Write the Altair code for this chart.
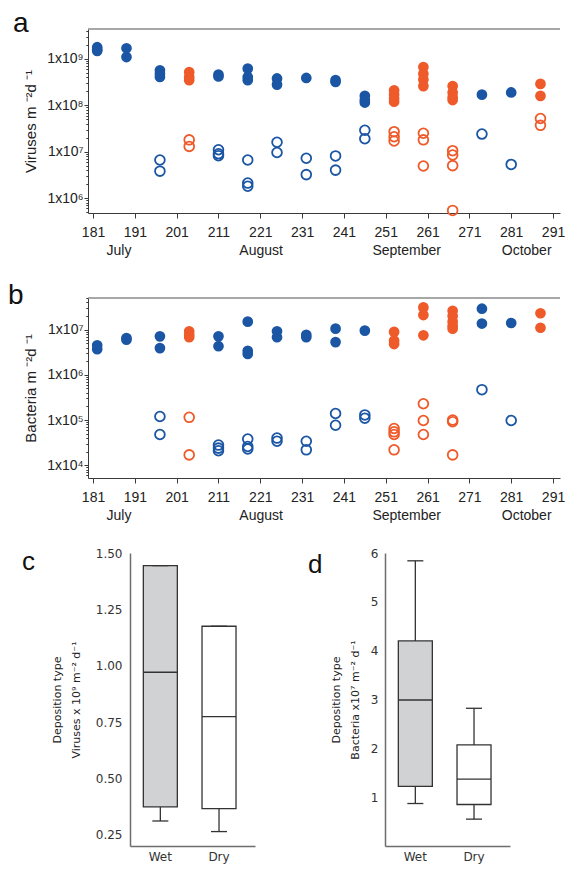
import altair as alt
import pandas as pd

BLUE = "#1b56a4"
ORANGE = "#ef5a2a"
AXIS_COL = "#3a3a3a"
TXT = "#222222"
SANS = "Liberation Sans"
DJV = "DejaVu Sans"

# ---------------- time-series data (day of year) ----------------
days = [182, 189, 197, 204, 211, 218, 225, 232, 239, 246, 253, 260, 267, 274, 281, 288]
wet_days = [204, 253, 260, 267, 288]

vir_filled = [
    [1.8e9, 1.6e9, 1.5e9],
    [1.7e9, 1.1e9],
    [5.7e8, 4.8e8, 4.1e8],
    [5.2e8, 4.1e8, 3.5e8],
    [4.6e8, 4.2e8],
    [6.2e8, 4.1e8, 3.5e8],
    [3.8e8, 2.8e8],
    [3.9e8],
    [3.5e8, 3.2e8],
    [1.6e8, 1.3e8, 1.15e8],
    [2.1e8, 1.7e8, 1.4e8, 1.2e8],
    [6.7e8, 4.8e8, 3.6e8, 2.6e8],
    [2.6e8, 1.9e8, 1.5e8, 1.3e8],
    [1.7e8],
    [1.9e8],
    [2.9e8, 1.6e8],
]
vir_open = [
    [],
    [],
    [6.6e6, 3.8e6],
    [1.8e7, 1.3e7],
    [1.1e7, 9.0e6, 8.2e6],
    [6.6e6, 2.1e6, 1.8e6],
    [1.6e7, 9.6e6],
    [7.2e6, 3.2e6],
    [8.1e6, 4.0e6],
    [2.9e7, 1.9e7],
    [2.7e7, 2.1e7, 1.7e7],
    [2.5e7, 1.8e7, 4.9e6],
    [1.05e7, 8.5e6, 5.0e6, 5.4e5],
    [2.4e7],
    [5.3e6],
    [5.2e7, 3.7e7],
]
bac_filled = [
    [4.5e6, 3.7e6],
    [6.5e6, 6.0e6],
    [7.1e6, 3.9e6],
    [9.2e6, 7.7e6, 6.8e6],
    [7.1e6, 4.3e6],
    [1.5e7, 3.4e6, 2.9e6],
    [9.2e6, 6.8e6],
    [7.7e6, 6.8e6],
    [1.05e7, 5.3e6],
    [9.5e6],
    [8.9e6, 5.7e6, 4.8e6],
    [3.1e7, 2.1e7, 7.5e6],
    [2.6e7, 2.0e7, 1.5e7, 1.2e7, 1.05e7],
    [2.9e7, 1.36e7],
    [1.4e7],
    [2.3e7, 1.1e7],
]
bac_open = [
    [],
    [],
    [1.2e5, 4.8e4],
    [1.15e5, 1.7e4],
    [2.8e4, 2.4e4, 2.1e4],
    [3.8e4, 2.6e4, 2.3e4],
    [4.0e4, 3.4e4],
    [3.4e4, 2.2e4],
    [1.4e5, 7.7e4],
    [1.3e5, 1.1e5],
    [6.5e4, 5.5e4, 4.8e4, 2.2e4],
    [2.3e5, 9.8e4, 4.8e4],
    [1.0e5, 9.2e4, 1.7e4],
    [4.7e5],
    [9.8e4],
    [],
]

x_ticks = [181, 191, 201, 211, 221, 231, 241, 251, 261, 271, 281, 291]
month_names = ["July", "August", "September", "October"]
month_pos = [187.2, 221.2, 256.0, 284.7]

# ---------------- box-plot summaries ----------------
box_groups = ["Wet", "Dry"]
vir_lo = [0.311, 0.264]
vir_q1 = [0.374, 0.366]
vir_med = [0.971, 0.774]
vir_q3 = [1.444, 1.175]
vir_hi = [1.444, 1.175]
bac_lo = [0.87, 0.55]
bac_q1 = [1.22, 0.85]
bac_med = [2.99, 1.37]
bac_q3 = [4.20, 2.07]
bac_hi = [5.84, 2.82]


def long_df(values):
    rows = []
    for d, vals in zip(days, values):
        for v in vals:
            rows.append({"day": d, "value": v,
                         "kind": "wet" if d in wet_days else "dry"})
    return pd.DataFrame(rows)


SUP = "['⁰','¹','²','³','⁴','⁵','⁶','⁷','⁸','⁹']"
DEC = "abs(log(datum.value)/LN10 - round(log(datum.value)/LN10)) < 0.001"

TS_W = 472
X_DOMAIN = [179.8, 292.67]


def ts_panel(filled, opened, ytitle, ydomain, exps, letter, lx, ly, H, W=TS_W):
    xs = alt.Scale(domain=X_DOMAIN, nice=False, zero=False)
    ys = alt.Scale(type="log", domain=ydomain, nice=False)
    minor = [m * 10.0 ** k for k in exps for m in range(1, 10)
             if ydomain[0] <= m * 10.0 ** k <= ydomain[1]]
    xaxis = alt.Axis(values=x_ticks, title=None, grid=False, tickSize=5,
                     tickColor=AXIS_COL, domainColor=AXIS_COL, labelColor=TXT,
                     labelFont=SANS, labelFontSize=14, labelPadding=7,
                     labelFlush=False, labelOverlap=False)
    yaxis = alt.Axis(values=minor, title=ytitle, grid=False, tickSize=4,
                     tickDash={"condition": {"test": DEC, "value": [4, 0]},
                               "value": [2.2, 10]},
                     labelExpr=f"{DEC} ? '1x10' + {SUP}[round(log(datum.value)/LN10)] : ''",
                     tickColor=AXIS_COL, domainColor=AXIS_COL, labelColor=TXT,
                     labelFont=SANS, labelFontSize=14, labelPadding=1,
                     labelOverlap=False, labelFlush=False,
                     titleFont=SANS, titleFontSize=15, titleFontWeight="normal",
                     titleColor=TXT, titlePadding=8)
    color = alt.Color("kind:N", scale=alt.Scale(domain=["dry", "wet"], range=[BLUE, ORANGE]),
                      legend=None)
    x = alt.X("day:Q", scale=xs, axis=xaxis)
    y = alt.Y("value:Q", scale=ys, axis=yaxis)
    one = pd.DataFrame({"t": [letter]})
    top = alt.Chart(one).mark_rule(color="#8a8a8a", strokeWidth=1.5).encode(
        x=alt.value(0), x2=alt.value(W), y=alt.value(0))
    pf = alt.Chart(long_df(filled)).mark_circle(size=115, opacity=1).encode(x=x, y=y, color=color)
    po = alt.Chart(long_df(opened)).mark_point(shape="circle", filled=False, size=95,
                                               strokeWidth=1.8, opacity=1).encode(x=x, y=y, color=color)
    mdf = pd.DataFrame({"m": month_names, "d": month_pos})
    months = alt.Chart(mdf).mark_text(font=SANS, fontSize=14, color=TXT, baseline="alphabetic",
                                      align="center").encode(
        x=alt.X("d:Q", scale=xs, axis=xaxis), y=alt.value(H + 42), text="m:N")
    let = alt.Chart(one).mark_text(font=SANS, fontSize=28, color="#111", align="left",
                                   baseline="alphabetic").encode(
        x=alt.value(lx), y=alt.value(ly), text="t:N")
    return alt.layer(top, pf, po, months, let).properties(width=W, height=H)


def box_panel(lo, q1, med, q3, hi, title_lines, ydomain, yvalues, fmt, letter,
              lx, ly, tpad, lpad, H=293, W=125):
    df = pd.DataFrame({"grp": box_groups, "lo": lo, "q1": q1, "med": med, "q3": q3, "hi": hi})
    xs = alt.Scale(domain=box_groups, paddingInner=0, paddingOuter=0.065, align=0.13)
    xaxis = alt.Axis(title=None, labelAngle=0, ticks=False, labelFont=DJV, labelFontSize=12,
                     labelColor="#333", labelPadding=5, domainColor="#6e6e6e", domainWidth=1.5)
    ys = alt.Scale(domain=ydomain, nice=False, zero=False)
    yaxis = alt.Axis(values=yvalues, format=fmt, title=title_lines, ticks=False, grid=False,
                     labelFont=DJV, labelFontSize=12, labelColor="#333", labelPadding=lpad,
                     domainColor="#6e6e6e", domainWidth=1.5, titleFont=DJV, titleFontSize=11,
                     titleFontWeight="normal", titleColor=TXT, titleLineHeight=19,
                     titlePadding=tpad)
    x = alt.X("grp:N", scale=xs, axis=xaxis, sort=box_groups)
    base = alt.Chart(df)
    line = "#333333"
    w_lo = base.mark_rule(color=line, strokeWidth=1.3).encode(
        x=x, y=alt.Y("lo:Q", scale=ys, axis=yaxis), y2="q1:Q")
    w_hi = base.mark_rule(color=line, strokeWidth=1.3).encode(
        x=x, y=alt.Y("q3:Q", scale=ys, axis=yaxis), y2="hi:Q")
    box = base.mark_bar(size=34, stroke=line, strokeWidth=1.3, opacity=1).encode(
        x=x, y=alt.Y("q1:Q", scale=ys, axis=yaxis), y2="q3:Q",
        color=alt.condition("datum.grp == 'Wet'", alt.value("#d1d2d4"), alt.value("#ffffff")))
    medt = base.mark_tick(orient="horizontal", size=34, thickness=1.4, color=line, opacity=1).encode(
        x=x, y=alt.Y("med:Q", scale=ys, axis=yaxis))
    cap_lo = base.mark_tick(orient="horizontal", size=16, thickness=1.3, color=line, opacity=1).encode(
        x=x, y=alt.Y("lo:Q", scale=ys, axis=yaxis))
    cap_hi = base.mark_tick(orient="horizontal", size=16, thickness=1.3, color=line, opacity=1).encode(
        x=x, y=alt.Y("hi:Q", scale=ys, axis=yaxis))
    one = pd.DataFrame({"t": [letter]})
    let = alt.Chart(one).mark_text(font=SANS, fontSize=26, color="#111", align="left",
                                   baseline="alphabetic").encode(
        x=alt.value(lx), y=alt.value(ly), text="t:N")
    return alt.layer(w_lo, w_hi, box, medt, cap_lo, cap_hi, let).properties(width=W, height=H)


def spacer(w):
    return alt.Chart(pd.DataFrame({"t": [""]})).mark_text(fontSize=1).encode(
        x=alt.value(0), y=alt.value(0), text="t:N").properties(width=w, height=10)


panel_a = ts_panel(vir_filled, vir_open, "Viruses m ⁻²d  ⁻¹", [4.75e5, 4.44e9], [5, 6, 7, 8, 9],
                   "a", -75, 3, 184)
panel_b = ts_panel(bac_filled, bac_open, "Bacteria m ⁻²d  ⁻¹", [5.24e3, 5.0e7], [3, 4, 5, 6, 7],
                   "b", -80, 6, 180)
panel_c = box_panel(vir_lo, vir_q1, vir_med, vir_q3, vir_hi,
                    ["Deposition type", "Viruses x 10⁹ m⁻² d⁻¹"], [0.2, 1.5],
                    [0.25, 0.5, 0.75, 1.0, 1.25, 1.5], ".2f", "c", -108, 16.6, 14, 8)
panel_d = box_panel(bac_lo, bac_q1, bac_med, bac_q3, bac_hi,
                    ["Deposition type", "Bacteria x10⁷ m⁻² d⁻¹"], [0, 6],
                    [1, 2, 3, 4, 5, 6], "d", "d", -77, 20, 10, 7)

# flush layout: spacer(32) | C (at +42) | spacer(110) | D (at +297)
bottom = alt.hconcat(spacer(32), panel_c, spacer(110), panel_d, spacing=10, bounds="flush")

chart = alt.vconcat(panel_a, panel_b, bottom, spacing=24).properties(
    padding={"top": 2, "left": 0, "right": 0, "bottom": 4}
).configure(font=SANS, background="white").configure_view(strokeWidth=0, stroke="transparent")

chart.save("out.html", embed_options={"renderer": "svg", "actions": False})
